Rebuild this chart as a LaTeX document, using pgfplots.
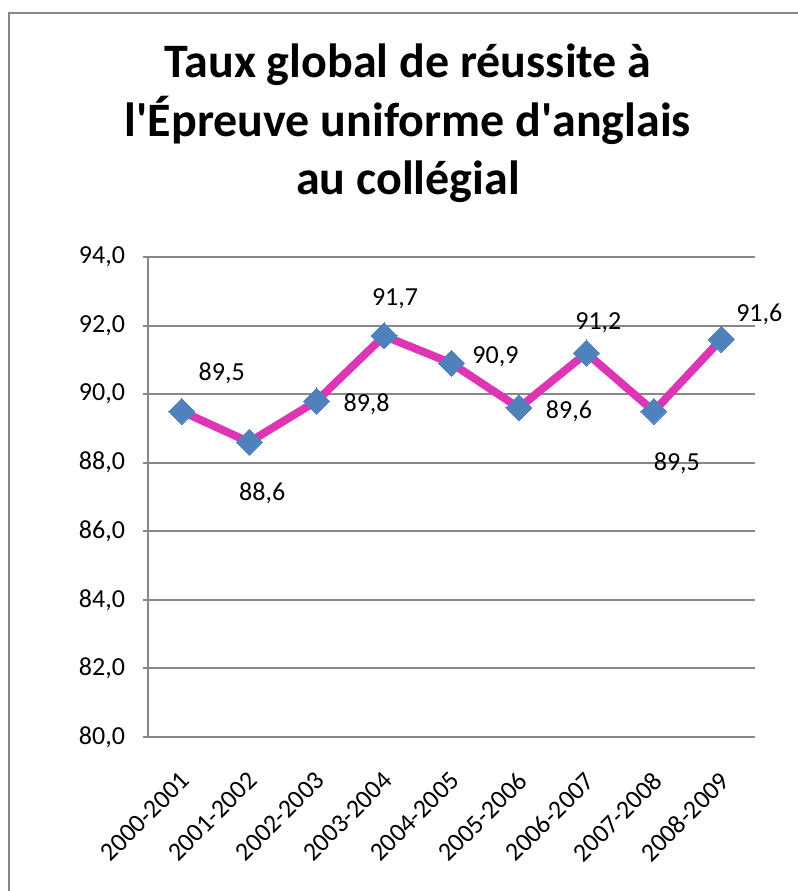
\documentclass[border=0pt]{standalone}
\usepackage{fontspec}
\setmainfont{Carlito}
\usepackage{pgfplots}
\pgfplotsset{compat=1.18}
\usepackage{pgfplotstable}

\definecolor{linemag}{HTML}{DE35B4}
\definecolor{markblue}{HTML}{4F81BD}
\definecolor{gridgray}{HTML}{878787}

% x = category index, y = rate, dx/dy = label offset in px (dy downward)
\pgfplotstableread{
x  y    dx  dy
0  89.5 40 -38
1  88.6 13  51
2  89.8 50   3
3  91.7 11 -37
4  90.9 44  -7
5  89.6 50   3
6  91.2 12 -30
7  89.5 23  52
8  91.6 38 -25
}\rates

\begin{document}
\begin{tikzpicture}
\begin{scope}[x=0.75pt, y=-0.75pt]
  \path[use as bounding box] (0,0) rectangle (797,891);
  \draw[gridgray, line width=2pt] (9,900) -- (9,13) -- (810,13);
  \node[anchor=base, font=\fontsize{36}{40}\selectfont\bfseries] at (408,78) {Taux global de réussite à};
  \node[anchor=base, font=\fontsize{36}{40}\selectfont\bfseries] at (408,137) {l\textquotesingle Épreuve uniforme d\textquotesingle anglais};
  \node[anchor=base, font=\fontsize{36}{40}\selectfont\bfseries] at (408,195) {au collégial};
\end{scope}
\begin{axis}[
  at={(111pt,-552.75pt)}, anchor=south west,
  scale only axis, width=455.25pt, height=360pt,
  xmin=-0.5, xmax=8.5, ymin=80, ymax=94,
  xtick=data,
  xticklabels={2000-2001,2001-2002,2002-2003,2003-2004,2004-2005,2005-2006,2006-2007,2007-2008,2008-2009},
  ytick={80,82,...,94},
  axis x line*=bottom, axis y line*=left,
  axis line style={gridgray, line width=1.5pt, -},
  ymajorgrids, grid style={gridgray, line width=1.5pt},
  x tick style={draw=none},
  y tick style={gridgray, line width=1.5pt},
  tick align=outside, major tick length=3.75pt,
  /pgf/number format/.cd, fixed, fixed zerofill, precision=1, use comma, assume math mode=true,
  /pgfplots/.cd,
  ticklabel style={font=\fontsize{19.5}{22}\selectfont},
  yticklabel style={xshift=-10pt},
  xticklabel style={xshift=-2pt, yshift=-21pt, rotate=45, anchor=north east, inner sep=0pt},
  nodes near coords,
  visualization depends on={\thisrow{dx} \as \dx},
  visualization depends on={\thisrow{dy} \as \dy},
  nodes near coords style={anchor=center, text=black, font=\fontsize{19.5}{22}\selectfont,
    xshift={\dx*0.75pt}, yshift={-\dy*0.75pt}},
  clip=false,
]
\addplot[linemag, line width=6pt, mark=square*, mark size=6.9pt,
  mark options={markblue, fill=markblue, line width=0pt, rotate=45}]
  table[x=x, y=y] {\rates};
\end{axis}
\end{tikzpicture}
\end{document}
